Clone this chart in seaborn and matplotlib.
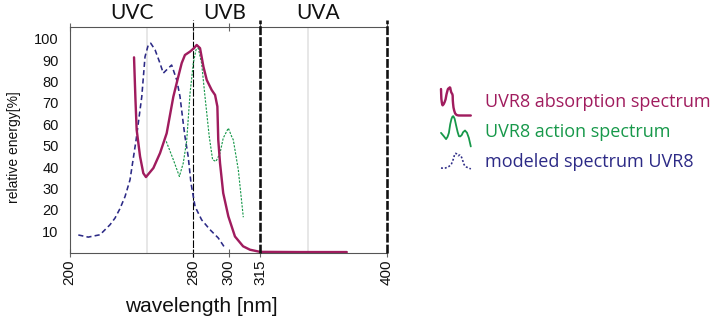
import numpy as np
import pandas as pd
import matplotlib
matplotlib.use("Agg")
import matplotlib.pyplot as plt
import seaborn as sns
from matplotlib.lines import Line2D
from matplotlib.legend_handler import HandlerBase
from matplotlib import font_manager as fm

# ---------------- data ----------------
absorption_nm = [241.7, 242.6, 243.4, 245.6, 247.7, 249.4, 254.2, 258.5, 262.8, 267.1,
                 270.3, 272.5, 274.6, 277.9, 280.4, 281.9, 283.8, 285.7, 287.6, 290.4,
                 292.3, 293.6, 294.1, 295.1, 296.9, 299.8, 303.0, 306.9, 310.2, 315.0,
                 341.8, 373.2]
absorption_val = [91.3, 72.0, 57.4, 44.9, 37.1, 35.3, 39.5, 46.5, 55.8, 72.9,
                  82.3, 88.6, 92.4, 94.0, 95.6, 97.1, 95.6, 87.0, 80.7, 76.0,
                  73.7, 68.3, 52.7, 41.8, 27.8, 16.9, 7.5, 2.9, 1.3, 0.3,
                  0.2, 0.2]

action_nm = [262.5, 267.1, 271.0, 273.5, 275.7, 277.9, 280.0, 281.5, 282.8, 284.7,
             286.6, 289.0, 290.9, 292.8, 295.1, 296.9, 299.8, 301.4, 302.2, 304.6,
             307.0]
action_val = [52.0, 43.4, 35.6, 41.8, 52.0, 74.5, 88.5, 94.8, 95.6, 88.5,
              73.0, 54.3, 43.4, 42.6, 46.5, 53.5, 58.2, 54.3, 52.7, 38.7,
              16.5]

modeled_nm = [205.7, 212.1, 219.7, 226.2, 229.4, 232.6, 235.9, 239.1, 243.0, 246.7,
              248.8, 250.9, 252.5, 255.3, 258.5, 260.6, 263.8, 266.0, 269.3, 271.4,
              273.5, 274.6, 276.7, 278.5, 281.0, 284.7, 289.4, 294.1, 297.9]
modeled_val = [8.2, 7.2, 8.3, 13.0, 16.1, 20.5, 26.2, 34.0, 52.5, 72.9,
               91.6, 97.1, 97.9, 94.8, 88.5, 83.9, 86.2, 87.7, 80.7, 73.0,
               60.5, 54.3, 44.9, 32.5, 21.5, 15.3, 10.7, 6.8, 2.1]

series_labels = ["UVR8 absorption spectrum", "UVR8 action spectrum", "modeled spectrum UVR8"]
band_names = ["UVC", "UVB", "UVA"]
band_edges = [280, 315, 400]
x_ticks = [200, 280, 300, 315, 400]
y_ticks = [10, 20, 30, 40, 50, 60, 70, 80, 90, 100]

# ---------------- non-uniform wavelength axis of the original ----------------
SCALE_NM = np.array([200.0, 280.0, 300.0, 315.0, 400.0])
SCALE_POS = np.array([0.0, 123.8, 159.2, 190.5, 317.2])
_s0 = (SCALE_POS[1] - SCALE_POS[0]) / (SCALE_NM[1] - SCALE_NM[0])
_s1 = (SCALE_POS[-1] - SCALE_POS[-2]) / (SCALE_NM[-1] - SCALE_NM[-2])


def fwd(x):
    x = np.asarray(x, float)
    y = np.interp(x, SCALE_NM, SCALE_POS)
    y = np.where(x < SCALE_NM[0], SCALE_POS[0] + (x - SCALE_NM[0]) * _s0, y)
    y = np.where(x > SCALE_NM[-1], SCALE_POS[-1] + (x - SCALE_NM[-1]) * _s1, y)
    return y


def inv(p):
    p = np.asarray(p, float)
    x = np.interp(p, SCALE_POS, SCALE_NM)
    x = np.where(p < SCALE_POS[0], SCALE_NM[0] + (p - SCALE_POS[0]) / _s0, x)
    x = np.where(p > SCALE_POS[-1], SCALE_NM[-1] + (p - SCALE_POS[-1]) / _s1, x)
    return x


# ---------------- style ----------------
sns.set_theme(style="white")
SANS = ["Liberation Sans", "DejaVu Sans"]
plt.rcParams["font.family"] = SANS


def has_font(name):
    try:
        fm.findfont(fm.FontProperties(family=name), fallback_to_default=False)
        return True
    except Exception:
        return False


NARROW = "Liberation Sans Narrow" if has_font("Liberation Sans Narrow") else "Liberation Sans"
BAND_FONT = ["Lato", "DejaVu Sans"]
LEG_FONT = ["Open Sans", "DejaVu Sans"]

C_ABS = "#a01c5e"
C_ACT = "#17984a"
C_MOD = "#2c2a86"

W, H = 714, 320
fig = plt.figure(figsize=(W / 100, H / 100), dpi=100)
ax = fig.add_axes([69.5 / W, 1 - 252.5 / H, (386.7 - 69.5) / W, (252.5 - 27) / H])

df_abs = pd.DataFrame({"wavelength": absorption_nm, "value": absorption_val})
df_act = pd.DataFrame({"wavelength": action_nm, "value": action_val})
df_mod = pd.DataFrame({"wavelength": modeled_nm, "value": modeled_val})

px = 0.72  # points per pixel
sns.lineplot(data=df_mod, x="wavelength", y="value", ax=ax, color=C_MOD,
             linewidth=1.6 * px, linestyle=(0, (3.2, 2.0)), label=series_labels[2], legend=False)
sns.lineplot(data=df_act, x="wavelength", y="value", ax=ax, color=C_ACT,
             linewidth=1.15 * px, linestyle=(0, (1.9, 1.2)), label=series_labels[1], legend=False)
sns.lineplot(data=df_abs, x="wavelength", y="value", ax=ax, color=C_ABS,
             linewidth=2.4 * px, linestyle="-", label=series_labels[0], legend=False)
line_mod, line_act, line_abs = ax.lines[0], ax.lines[1], ax.lines[2]

ax.set_xscale("function", functions=(fwd, inv))
ax.set_xlim(200, 400)
ax.set_ylim(0, 105.5)

# light reference grid lines
for g in (250, 347):
    ax.axvline(g, color="#e2e2e2", lw=1.6 * px, zorder=0)

# band boundaries
ax.axvline(band_edges[0], ymin=-0.02, ymax=1.031, color="black", lw=1.1 * px,
           linestyle=(0, (7, 1.6)), clip_on=False, zorder=1)
for e in band_edges[1:]:
    ax.axvline(e, ymin=0, ymax=1.031, color="#111111", lw=2.6 * px,
               linestyle=(0, (3.4, 0.8)), clip_on=False, zorder=3)

# band names above the plot
band_x = [240.2, 297.9, 353.9]
for name, bx in zip(band_names, band_x):
    ax.text(bx, 1.064, name, transform=ax.get_xaxis_transform(), ha="center", va="center",
            fontsize=15, family=BAND_FONT, color="#111111")

# spines
for s in ("left", "top", "bottom"):
    ax.spines[s].set_color("#555555")
    ax.spines[s].set_linewidth(1.1 * px)
ax.spines["right"].set_visible(False)

ax.set_xticks(x_ticks)
ax.set_xticklabels([str(t) for t in x_ticks], rotation=90)
ax.set_xticks([], minor=True)
ax.set_yticks(y_ticks)
ax.set_yticklabels([str(t) for t in y_ticks])
ax.tick_params(axis="x", which="major", direction="inout", length=8 * px, width=1.1 * px,
               color="#666666", pad=2, labelsize=11, top=True, bottom=True, labelcolor="#111111")
ax.tick_params(axis="y", which="major", direction="inout", length=19 * px, width=1.2 * px,
               color="#808080", pad=1, labelsize=10.5, labelcolor="#111111")
ax.set_xlabel("")
ax.set_ylabel("")
ax.grid(False)

fig.text(201.5 / W, 1 - 306.7 / H, "wavelength [nm]", ha="center", va="center",
         fontsize=15, color="#111111", family=SANS)
fig.text(14 / W, 1 - 147 / H, "relative energy[%]", ha="center", va="center",
         rotation=90, fontsize=10, color="#111111", family=[NARROW, "DejaVu Sans"])


# ---------------- legend with miniature curves ----------------
class MiniCurve(HandlerBase):
    def __init__(self, linestyle=None, lw=None, hfrac=1.0):
        super().__init__()
        self.ls = linestyle
        self.lw = lw
        self.hfrac = hfrac

    def create_artists(self, legend, orig, xdescent, ydescent, width, height, fontsize, trans):
        xs = fwd(np.asarray(orig.get_xdata(), float))
        ys = np.asarray(orig.get_ydata(), float)
        xn = (xs - xs.min()) / (xs.max() - xs.min())
        yn = (ys - ys.min()) / (ys.max() - ys.min())
        h = height * self.hfrac
        y0 = -ydescent + (height - h) / 2.0
        ln = Line2D(-xdescent + xn * width, y0 + yn * h)
        ln.update_from(orig)
        ln.set_clip_on(False)
        ln.set_clip_box(None)
        ln.set_clip_path(None)
        if self.ls is not None:
            ln.set_linestyle(self.ls)
        if self.lw is not None:
            ln.set_linewidth(self.lw)
        ln.set_transform(trans)
        return [ln]


leg = fig.legend(handles=[line_abs, line_act, line_mod], labels=series_labels,
                 loc="upper left", bbox_to_anchor=(441 / W, 1 - 91 / H),
                 frameon=False, borderpad=0, borderaxespad=0,
                 handlelength=1.65, handleheight=1.4,
                 handletextpad=0.78, labelspacing=0.5,
                 prop={"family": LEG_FONT, "size": 13},
                 handler_map={line_abs: MiniCurve(hfrac=1.35),
                              line_act: MiniCurve(linestyle="-", lw=1.8 * px, hfrac=1.45),
                              line_mod: MiniCurve(linestyle=(0, (1.2, 1.2)), hfrac=0.75)})
for txt, col in zip(leg.get_texts(), (C_ABS, C_ACT, C_MOD)):
    txt.set_color(col)

fig.savefig("out.png", dpi=100)
